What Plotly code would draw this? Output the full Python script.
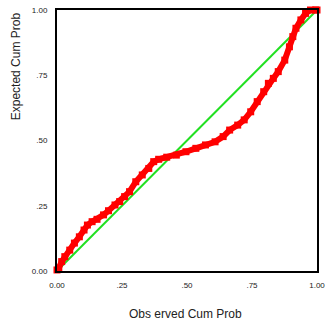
import plotly.graph_objects as go

observed = [0.000, 0.007, 0.018, 0.030, 0.049, 0.067, 0.086, 0.104, 0.117, 0.135,
            0.154, 0.179, 0.198, 0.223, 0.241, 0.260, 0.279, 0.303, 0.328, 0.353,
            0.372, 0.391, 0.422, 0.459, 0.496, 0.534, 0.571, 0.608, 0.639, 0.664,
            0.695, 0.720, 0.745, 0.770, 0.795, 0.813, 0.832, 0.851, 0.876, 0.894,
            0.907, 0.919, 0.938, 0.956, 0.975, 0.994, 1.000]
expected = [0.004, 0.011, 0.036, 0.055, 0.080, 0.107, 0.131, 0.157, 0.176, 0.189,
            0.198, 0.215, 0.231, 0.253, 0.266, 0.285, 0.304, 0.342, 0.368, 0.393,
            0.419, 0.428, 0.436, 0.444, 0.457, 0.470, 0.483, 0.495, 0.515, 0.540,
            0.559, 0.579, 0.610, 0.649, 0.687, 0.719, 0.738, 0.764, 0.808, 0.859,
            0.898, 0.930, 0.962, 0.987, 1.000, 1.000, 1.000]
ref_line = [0.0, 1.0]
tick_vals = [0, 0.25, 0.5, 0.75, 1.0]
tick_text = ["0.00", ".25", ".50", ".75", "1.00"]

FONT = "Arial, Liberation Sans, sans-serif"

fig = go.Figure()
fig.add_trace(go.Scatter(x=ref_line, y=ref_line, mode="lines",
                         line=dict(color="#22e022", width=2), hoverinfo="skip"))
fig.add_trace(go.Scatter(x=observed, y=expected, mode="lines+markers",
                         line=dict(color="#ff0000", width=6),
                         marker=dict(color="#ff0000", size=7, symbol="square"),
                         cliponaxis=False))

axis_common = dict(range=[0, 1], tickvals=tick_vals, ticktext=tick_text,
                   showgrid=False, zeroline=False, showline=True, mirror=True,
                   linecolor="black", linewidth=2, ticks="",
                   ticklabeloverflow="allow",
                   tickfont=dict(family=FONT, size=8, color="#222222"))

fig.update_layout(
    width=330, height=325,
    margin=dict(l=57, r=5, t=10, b=54),
    paper_bgcolor="white", plot_bgcolor="white",
    showlegend=False,
    xaxis=dict(**axis_common, ticklabelstandoff=5),
    yaxis=dict(**axis_common, ticklabelstandoff=6),
    annotations=[
        dict(text="Obs erved Cum Prob", xref="paper", yref="paper",
             x=0.4925, y=-0.165, showarrow=False, xanchor="center", yanchor="middle",
             font=dict(family=FONT, size=12, color="#222222")),
        dict(text="Expected Cum Prob", xref="paper", yref="paper",
             x=-0.157, y=0.785, showarrow=False, textangle=-90,
             xanchor="center", yanchor="middle",
             font=dict(family=FONT, size=12, color="#222222")),
    ],
)

fig.write_html("out.html")
